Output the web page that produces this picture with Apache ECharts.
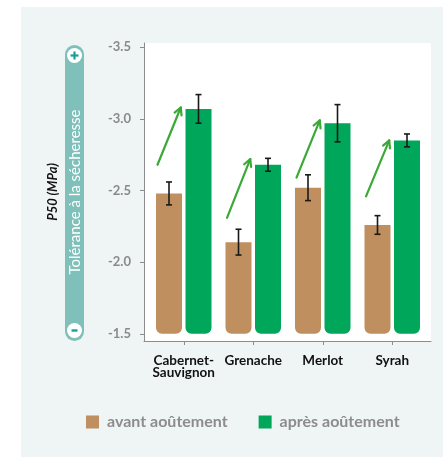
<!DOCTYPE html>
<html>
<head>
<meta charset="utf-8">
<script src="https://cdn.jsdelivr.net/npm/echarts@6/dist/echarts.min.js"></script>
<style>
  html, body { margin: 0; padding: 0; background: #ffffff; }
  #chart { width: 443px; height: 457px; }
</style>
</head>
<body>
<div id="chart"></div>
<script>
// ---- data ----
const categories = ['Cabernet-\nSauvignon', 'Grenache', 'Merlot', 'Syrah'];
const avant = [-2.48, -2.14, -2.52, -2.26];
const apres = [-3.07, -2.68, -2.97, -2.85];
const avantErr = [0.08, 0.09, 0.09, 0.065];
const apresErr = [0.10, 0.045, 0.13, 0.045];
const arrowFrom = [-2.68, -2.31, -2.59, -2.46];
const arrowTo = [-3.08, -2.72, -2.99, -2.85];
const yTicks = [-3.5, -3.0, -2.5, -2.0, -1.5];
const seriesNames = ['avant aoûtement', 'après aoûtement'];
const yTitle = 'P50 (MPa)';
const sideText = 'Tolérance à la sécheresse';

// ---- style ----
const FONT = 'Lato, "Noto Sans", sans-serif';
const BROWN = '#bf8f5f';
const GREEN = '#00a659';
const ARROW = '#3aa936';
const TEAL = '#80c0ba';
const TEAL_DARK = '#17a195';
const BAR_W = 26;
const BAR_GAP = 3.5;
const HALF = (BAR_W + BAR_GAP) / 2;

const chart = echarts.init(document.getElementById('chart'), null, { renderer: 'canvas' });

function errRender(offsetSign, errs) {
  return function (params, api) {
    const i = api.value(0);
    const v = api.value(1);
    const e = errs[params.dataIndex];
    const top = api.coord([i, v - e]);
    const bot = api.coord([i, v + e]);
    const x = top[0] + offsetSign * HALF;
    const cap = 3;
    const st = { stroke: '#1a1a1a', lineWidth: 1.6 };
    return {
      type: 'group',
      children: [
        { type: 'line', shape: { x1: x, y1: top[1], x2: x, y2: bot[1] }, style: st },
        { type: 'line', shape: { x1: x - cap, y1: top[1], x2: x + cap, y2: top[1] }, style: st },
        { type: 'line', shape: { x1: x - cap, y1: bot[1], x2: x + cap, y2: bot[1] }, style: st }
      ]
    };
  };
}

function arrowRender(params, api) {
  const i = api.value(0);
  const p0 = api.coord([i, api.value(1)]);
  const p1 = api.coord([i, api.value(2)]);
  const x0 = p0[0] - HALF - BAR_W / 2 + 1.5;
  const x1 = p1[0] - 3;
  const y0 = p0[1], y1 = p1[1];
  const ang = Math.atan2(y1 - y0, x1 - x0);
  const L = 8, A = Math.PI / 6.5;
  const st = { stroke: ARROW, lineWidth: 2.2, lineCap: 'round', lineJoin: 'round', fill: null };
  return {
    type: 'group',
    children: [
      { type: 'line', shape: { x1: x0, y1: y0, x2: x1, y2: y1 }, style: st },
      { type: 'polyline', shape: { points: [
        [x1 - L * Math.cos(ang - A), y1 - L * Math.sin(ang - A)],
        [x1, y1],
        [x1 - L * Math.cos(ang + A), y1 - L * Math.sin(ang + A)]
      ] }, style: st }
    ]
  };
}

const option = {
  animation: false,
  textStyle: { fontFamily: FONT },
  graphic: [
    { type: 'rect', z: -100, shape: { x: 21, y: 7, width: 422, height: 450 }, style: { fill: '#eef5f4' } },
    { type: 'rect', z: 10, shape: { x: 65, y: 45, width: 19, height: 296, r: 9.5 }, style: { fill: TEAL } },
    { type: 'circle', z: 11, shape: { cx: 74.5, cy: 55.5, r: 7.5 }, style: { fill: '#ffffff' } },
    { type: 'circle', z: 11, shape: { cx: 74.5, cy: 330.5, r: 7.5 }, style: { fill: '#ffffff' } },
    { type: 'line', z: 12, shape: { x1: 70.5, y1: 55.5, x2: 78.5, y2: 55.5 }, style: { stroke: TEAL_DARK, lineWidth: 2.2 } },
    { type: 'line', z: 12, shape: { x1: 74.5, y1: 51.5, x2: 74.5, y2: 59.5 }, style: { stroke: TEAL_DARK, lineWidth: 2.2 } },
    { type: 'line', z: 12, shape: { x1: 71.5, y1: 330.5, x2: 77.5, y2: 330.5 }, style: { stroke: TEAL_DARK, lineWidth: 2.4 } },
    { type: 'text', z: 12, x: 75.5, y: 192, rotation: Math.PI / 2,
      style: { text: sideText, fill: '#ffffff', font: '15px ' + FONT, align: 'center', verticalAlign: 'middle' } }
  ],
  legend: {
    data: seriesNames,
    left: 86,
    top: 414,
    padding: 0,
    icon: 'rect',
    itemWidth: 13,
    itemHeight: 13,
    itemGap: 31,
    itemStyle: { borderWidth: 0 },
    textStyle: { color: '#8c8c8c', fontWeight: 'bold', fontSize: 16, fontFamily: FONT, padding: [0, 0, 0, 3] }
  },
  grid: [
    { left: 149, right: 16, top: 43, bottom: 116, containLabel: false },
    { left: 144, right: 12, top: 43, bottom: 116, show: true, backgroundColor: '#ffffff', borderWidth: 0, z: -1 }
  ],
  xAxis: [
    {
      gridIndex: 0,
      type: 'category',
      data: categories,
      axisLine: { show: false },
      axisTick: { show: true, alignWithLabel: true, length: 4, lineStyle: { color: '#8c8c8c' } },
      axisLabel: { color: '#111111', fontWeight: 'bold', fontSize: 13.5, lineHeight: 12.5, margin: 13, fontFamily: FONT, interval: 0 }
    },
    {
      gridIndex: 1,
      type: 'value',
      min: 0, max: 1,
      axisLine: { show: true, lineStyle: { color: '#8c8c8c', width: 1 } },
      axisTick: { show: false },
      axisLabel: { show: false },
      splitLine: { show: false }
    }
  ],
  yAxis: [
    {
      gridIndex: 0,
      type: 'value',
      inverse: true,
      min: -3.53,
      max: -1.45,
      startValue: -1.5,
      offset: 5,
      name: yTitle,
      nameLocation: 'middle',
      nameRotate: 90,
      nameGap: 85,
      nameTextStyle: { color: '#111111', fontStyle: 'italic', fontWeight: 'bold', fontSize: 13, fontFamily: FONT },
      axisLine: { show: true, lineStyle: { color: '#8c8c8c', width: 1 } },
      axisTick: { show: true, length: 4, customValues: yTicks, lineStyle: { color: '#8c8c8c' } },
      axisLabel: { customValues: yTicks, color: '#8a8a8a', fontWeight: 'bold', fontSize: 13, margin: 13, fontFamily: FONT,
        formatter: v => v.toFixed(1) },
      splitLine: { show: false }
    },
    { gridIndex: 1, type: 'value', show: false, min: 0, max: 1 }
  ],
  series: [
    {
      name: seriesNames[0], type: 'bar', xAxisIndex: 0, yAxisIndex: 0,
      data: avant, barWidth: BAR_W, barGap: (BAR_GAP / BAR_W * 100).toFixed(1) + '%',
      itemStyle: { color: BROWN, borderRadius: [0, 0, 6, 6] }
    },
    {
      name: seriesNames[1], type: 'bar', xAxisIndex: 0, yAxisIndex: 0,
      data: apres, barWidth: BAR_W,
      itemStyle: { color: GREEN, borderRadius: [0, 0, 6, 6] }
    },
    {
      name: 'err-avant', type: 'custom', xAxisIndex: 0, yAxisIndex: 0, z: 5,
      data: avant.map((v, i) => [i, v]),
      encode: { x: 0, y: 1 },
      renderItem: errRender(-1, avantErr)
    },
    {
      name: 'err-apres', type: 'custom', xAxisIndex: 0, yAxisIndex: 0, z: 5,
      data: apres.map((v, i) => [i, v]),
      encode: { x: 0, y: 1 },
      renderItem: errRender(1, apresErr)
    },
    {
      name: 'arrows', type: 'custom', xAxisIndex: 0, yAxisIndex: 0, z: 6,
      data: arrowFrom.map((v, i) => [i, v, arrowTo[i]]),
      encode: { x: 0, y: [1, 2] },
      renderItem: arrowRender
    }
  ]
};
chart.setOption(option);
</script>
</body>
</html>
